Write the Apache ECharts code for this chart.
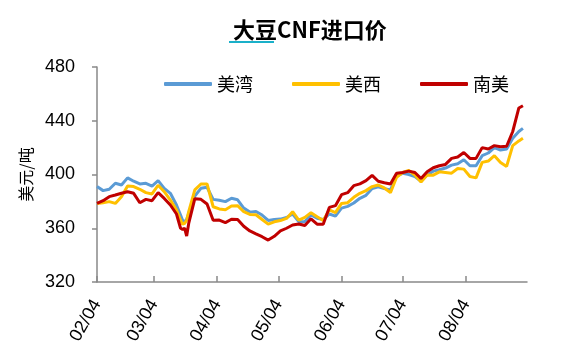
<!DOCTYPE html>
<html><head><meta charset="utf-8">
<script src="https://cdn.jsdelivr.net/npm/echarts@6/dist/echarts.min.js"></script>
<style>html,body{margin:0;padding:0;background:#fff}#c{width:584px;height:355px}</style>
</head><body><div id="c"></div><script>
// sample dates (MM/DD)
const sampleDates = ['02/04','02/07','02/10','02/13','02/16','02/19','02/22','02/25','02/28','03/03','03/06','03/09','03/12','03/15','03/17','03/18','03/19','03/20','03/21','03/24','03/27','03/30','04/02','04/05','04/08','04/11','04/14','04/17','04/20','04/23','04/26','04/29','05/02','05/05','05/08','05/11','05/14','05/17','05/20','05/23','05/26','05/29','06/01','06/04','06/07','06/10','06/13','06/16','06/19','06/22','06/25','06/28','07/01','07/04','07/07','07/10','07/13','07/16','07/19','07/22','07/25','07/28','07/31','08/03','08/06','08/09','08/12','08/15','08/18','08/21','08/24','08/27','08/30','09/01'];
const usGulf = [391,388,389,393.5,392.2,397.5,395,393,393.4,391.4,395.4,389.7,386,377.3,369.9,366,364.9,366.6,371,384,389.7,390.5,381.5,380.8,379.8,382.3,381.2,375,372,372.5,369.8,365.8,366.5,366.8,368,370.6,364.9,365,369.9,367.5,366.5,370.6,369,375,376.3,378.8,382.3,384.5,389.5,390.9,389.5,388.5,399,400.9,400,398.4,395,399.6,402.5,403.5,404.8,407,408,411,406.5,406.5,414,416,420,418.2,419,427,432,434.3];
const usWest = [378.5,379,379.8,378.5,383.5,391.5,391,389,386.5,385.5,392,387.2,381,373.6,366,363,363.6,366,372.3,388.5,392.9,393,376,374.4,373.8,376.5,376.8,372.3,370.3,370,366.5,363.1,364.8,365.7,367.3,372.3,366.1,368.1,371.6,368.5,365.8,373.6,371.6,378.5,379,383,386,388,391,392.2,390,386.5,398,401.5,403,399.6,394.5,399.6,399.5,402,401.5,401,404.5,404,398.5,397.5,409,410,414,409,406,421.5,425,426.9];
const southAmerica = [378.5,380.5,383.5,384.7,386,387.2,386,379,381.5,380.5,386.5,382.2,377.3,370.6,360,359.2,360,354.2,363.6,382,381.5,378,366,366.1,364.2,366.7,366.6,361.5,358,355.8,353.7,351.2,354,358,360,362.4,363.2,362,367,363,363,375.5,376.8,385,386.5,391.7,393,395.4,399.4,395,393.9,393,401,401.5,402.5,401.5,397,402,405,406.5,407.5,412,413,416.4,412,412,420,419,421.5,420.7,421,432,449.5,451.2];
const seriesNames = ['美湾','美西','南美'];
const tickLabels = ['02/04','03/04','04/04','05/04','06/04','07/04','08/04'];

// axis categories: every calendar day from 02/04 to 09/03
const monthLen = {2:28,3:31,4:30,5:31,6:30,7:31,8:31,9:30};
const pad = n => (n < 10 ? '0' : '') + n;
const axisDays = [];
for (let m = 2, d = 4; !(m === 9 && d > 3); ) {
  axisDays.push(pad(m) + '/' + pad(d));
  d++; if (d > monthLen[m]) { m++; d = 1; }
}
const isTick = (i, v) => tickLabels.indexOf(v) >= 0;

const chart = echarts.init(document.getElementById('c'), null, {renderer: 'canvas'});
const colors = ['#5B9BD5', '#FFC000', '#C00000'];
const values = [usGulf, usWest, southAmerica];
chart.setOption({
  animation: false,
  backgroundColor: '#fff',
  title: {
    text: '大豆CNF进口价', left: 228, top: 14,
    textStyle: {fontFamily: 'Noto Sans CJK SC', fontSize: 22, fontWeight: 'bold', color: '#000'}
  },
  graphic: [{type: 'rect', shape: {x: 229, y: 41, width: 45, height: 2}, style: {fill: '#1AB0C9'}}],
  legend: {
    data: seriesNames, left: 159, top: 70, itemWidth: 48, itemHeight: 4, itemGap: 39, icon: 'roundRect',
    textStyle: {fontFamily: 'Noto Sans CJK SC', fontSize: 18, color: '#000'}
  },
  grid: {left: 97, right: 57, top: 67, bottom: 73, containLabel: false},
  xAxis: {
    type: 'category', data: axisDays, boundaryGap: false,
    axisLine: {lineStyle: {color: '#898989', width: 1.5}},
    axisTick: {interval: isTick, inside: true, length: 6, lineStyle: {color: '#898989', width: 1.5}},
    axisLabel: {interval: isTick, rotate: 60, margin: 19, fontFamily: 'Liberation Sans', fontSize: 18, color: '#000'},
    splitLine: {show: false}
  },
  yAxis: {
    type: 'value', min: 320, max: 480, interval: 40,
    name: '美元/吨', nameLocation: 'middle', nameGap: 61, nameRotate: 90,
    nameTextStyle: {fontFamily: 'Noto Sans CJK SC', fontSize: 16, color: '#000'},
    axisLine: {show: true, lineStyle: {color: '#898989', width: 1.5}},
    axisTick: {show: true, length: 5, lineStyle: {color: '#898989', width: 1.5}},
    axisLabel: {margin: 22, fontFamily: 'Liberation Sans', fontSize: 18, color: '#000'},
    splitLine: {show: false}
  },
  series: seriesNames.map((n, k) => ({
    name: n, type: 'line', showSymbol: false, symbol: 'none',
    itemStyle: {color: colors[k]},
    lineStyle: {color: colors[k], width: 3},
    data: sampleDates.map((dt, i) => [dt, values[k][i]])
  }))
});
</script></body></html>
